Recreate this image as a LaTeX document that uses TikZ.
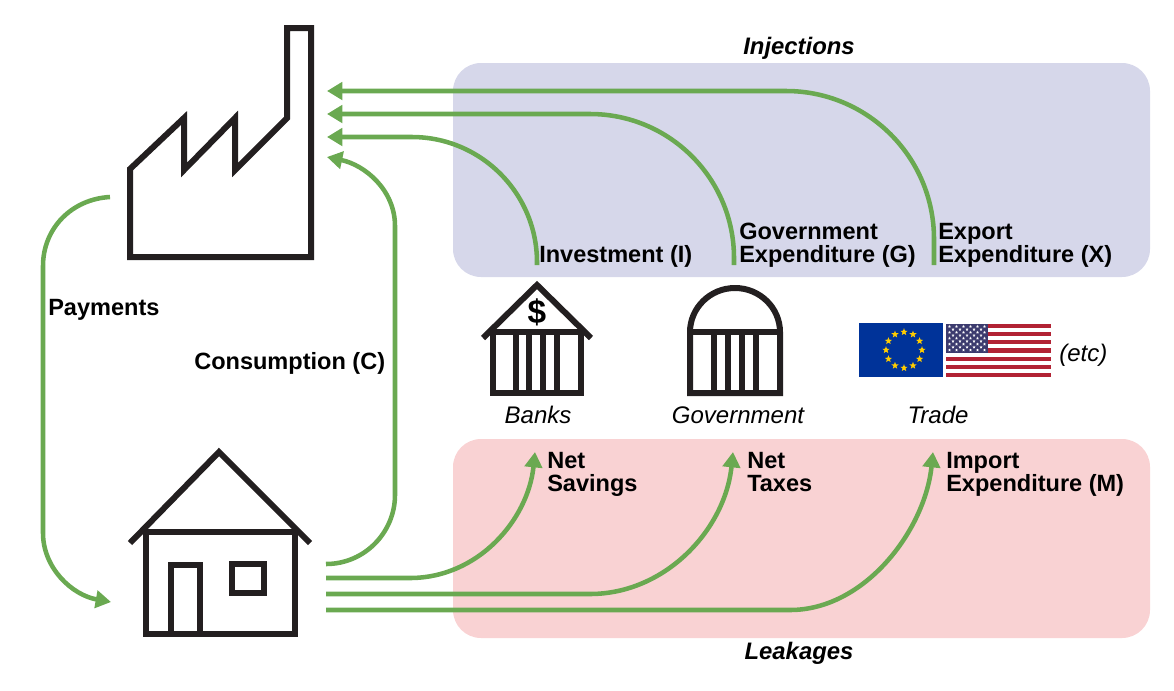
\documentclass[tikz,border=0pt]{standalone}
\usepackage{fontspec}
\setmainfont{Liberation Sans}
\usetikzlibrary{arrows.meta}
\definecolor{ink}{HTML}{231F20}
\definecolor{flow}{HTML}{6AA951}
\definecolor{injbg}{HTML}{D6D7EA}
\definecolor{leakbg}{HTML}{F9D2D3}
\definecolor{eublue}{HTML}{003399}
\definecolor{eugold}{HTML}{FFCC00}
\definecolor{usred}{HTML}{B22234}
\definecolor{usblue}{HTML}{3C3B6E}
\AtBeginDocument{\lineskiplimit=-100pt\relax}
\newcommand\fivestar[4]{\fill[#4,shift={(#1,#2)}] (-90:#3) -- (-54:#3*.42) -- (-18:#3) -- (18:#3*.42) -- (54:#3) -- (90:#3*.42) -- (126:#3) -- (162:#3*.42) -- (198:#3) -- (234:#3*.42) -- cycle;}
\tikzset{
  icon/.style={draw=ink,line width=4.5pt,miter limit=10},
  flowline/.style={draw=flow,line width=3.4pt,-{Triangle[length=11.5pt,width=13pt]}},
  panel/.style={rounded corners=21pt},
  boldlabel/.style={font=\fontsize{17.65}{17.25}\selectfont\bfseries,anchor=west,align=left,inner sep=0pt,text=black},
  itlabel/.style={font=\fontsize{18}{18}\selectfont\itshape,inner sep=0pt,text=black,anchor=base},
  headlabel/.style={font=\fontsize{17.9}{18}\selectfont\bfseries\itshape,inner sep=0pt,anchor=base},
}
\begin{document}
\begin{tikzpicture}[x=0.75pt,y=-0.75pt]
\useasboundingbox (0,0) rectangle (1174,690);
% panels
\fill[injbg,panel] (453,63) rectangle (1150,277);
\fill[leakbg,panel] (453,439) rectangle (1150,638);
% factory
\draw[icon] (130,257) -- (130,169) -- (184,118) -- (184,170) -- (235,118) -- (235,170) -- (287,118) -- (287,28) -- (311,28) -- (311,257) -- cycle;
% house
\draw[icon] (146,532) rectangle (295,634);
\draw[icon,line cap=butt] (130,543) -- (219,452) -- (310,543);
\draw[icon] (171,634) -- (171,565) -- (200,565) -- (200,634);
\draw[icon] (232,564) rectangle (264,593);
% bank
\draw[icon] (493,393) -- (493,332) -- (581,332) -- (581,393) -- cycle;
\draw[icon] (483,338) -- (537,285) -- (591,338);
\foreach \cx in {516,529,543,557} \draw[icon] (\cx,332) -- (\cx,393);
\node[font=\fontsize{25}{25}\selectfont\bfseries,inner sep=0pt] (dollar) at (537,312) {\$};
% government
\draw[icon] (690,393) -- (690,332) .. controls (690,308) and (710,288) .. (735,288) .. controls (760,288) and (780,308) .. (780,332) -- (780,393) -- cycle;
\draw[icon] (690,332) -- (780,332);
\foreach \cx in {714,728,742,756} \draw[icon] (\cx,332) -- (\cx,393);
% EU flag
\fill[eublue] (859,323) rectangle (943,377);
\foreach \a in {0,30,...,330} {
  \pgfmathsetmacro\sx{904+18*cos(\a)}
  \pgfmathsetmacro\sy{350+18*sin(\a)}
  \fivestar{\sx}{\sy}{3.8}{eugold}
}
% US flag
\fill[white] (946,324) rectangle (1051,377);
\foreach \i in {0,2,...,12} {
  \pgfmathsetmacro\ya{324+\i*53/13}
  \pgfmathsetmacro\yb{\ya+53/13}
  \fill[usred] (946,\ya) rectangle (1051,\yb);
}
\fill[usblue] (946,324) rectangle (988,352.5);
\foreach \r in {0,2,4,6,8} \foreach \c in {0,...,5} {
  \pgfmathsetmacro\sx{949.5+\c*7}
  \pgfmathsetmacro\sy{326.5+\r*2.95}
  \fivestar{\sx}{\sy}{1.6}{white}
}
\foreach \r in {1,3,5,7} \foreach \c in {0,...,4} {
  \pgfmathsetmacro\sx{953+\c*7}
  \pgfmathsetmacro\sy{326.5+\r*2.95}
  \fivestar{\sx}{\sy}{1.6}{white}
}
% connector ends
\coordinate (xs) at (934,265);
\coordinate (xe) at (327,91);
\coordinate (gs) at (734,265);
\coordinate (ge) at (327,114);
\coordinate (is) at (537,265);
\coordinate (ie) at (327,137);
\coordinate (cs) at (326,564);
\coordinate (ce) at (327,157);
\coordinate (ps) at (110,197);
\coordinate (pe) at (111,602);
\coordinate (ss) at (326,578);
\coordinate (se) at (535,452);
\coordinate (ts) at (326,594);
\coordinate (te) at (733,452);
\coordinate (ms) at (326,610);
\coordinate (me) at (933,452);
% connectors
\draw[flowline,rounded corners=111pt] (xs) |- (xe);
\draw[flowline,rounded corners=108pt] (gs) |- (ge);
\draw[flowline,rounded corners=94pt] (is) |- (ie);
\draw[flowline] (cs) .. controls (365,564) and (395,532) .. (395,495) -- (395,226) .. controls (395,190) and (365,165) .. (ce);
\draw[flowline] (ps) .. controls (72,199) and (43,228) .. (43,266) -- (43,533) .. controls (43,568) and (72,595) .. (pe);
\draw[flowline] (ss) -- (410,578) .. controls (478,578) and (528,520) .. (se);
\draw[flowline] (ts) -- (590,594) .. controls (665,594) and (725,530) .. (te);
\draw[flowline] (ms) -- (790,610) .. controls (865,610) and (925,530) .. (me);
% labels
\node[headlabel] (inj) at (799,54) {Injections};
\node[headlabel] (lk) at (799,659) {Leakages};
\node[boldlabel] (lp) at (48,310.4) {\strut Payments};
\node[boldlabel] (lc) at (194,364.4) {\strut Consumption (C)};
\node[boldlabel] (li) at (539,257.4) {\strut Investment (I)};
\node[boldlabel] (lg) at (739,245.9) {\strut Government\\\strut Expenditure (G)};
\node[boldlabel] (lx) at (938,245.9) {\strut Export\\\strut Expenditure (X)};
\node[boldlabel] (ln) at (547,475.4) {\strut Net\\\strut Savings};
\node[boldlabel] (lt) at (747,475.4) {\strut Net\\\strut Taxes};
\node[boldlabel] (lm) at (946,475.4) {\strut Import\\\strut Expenditure (M)};
\node[itlabel] (lb) at (538,423) {Banks};
\node[itlabel] (lgv) at (738,423) {Government};
\node[itlabel] (ltr) at (938,423) {Trade};
\node[itlabel,anchor=base west] (le) at (1059,361) {(etc)};
\end{tikzpicture}
\end{document}
